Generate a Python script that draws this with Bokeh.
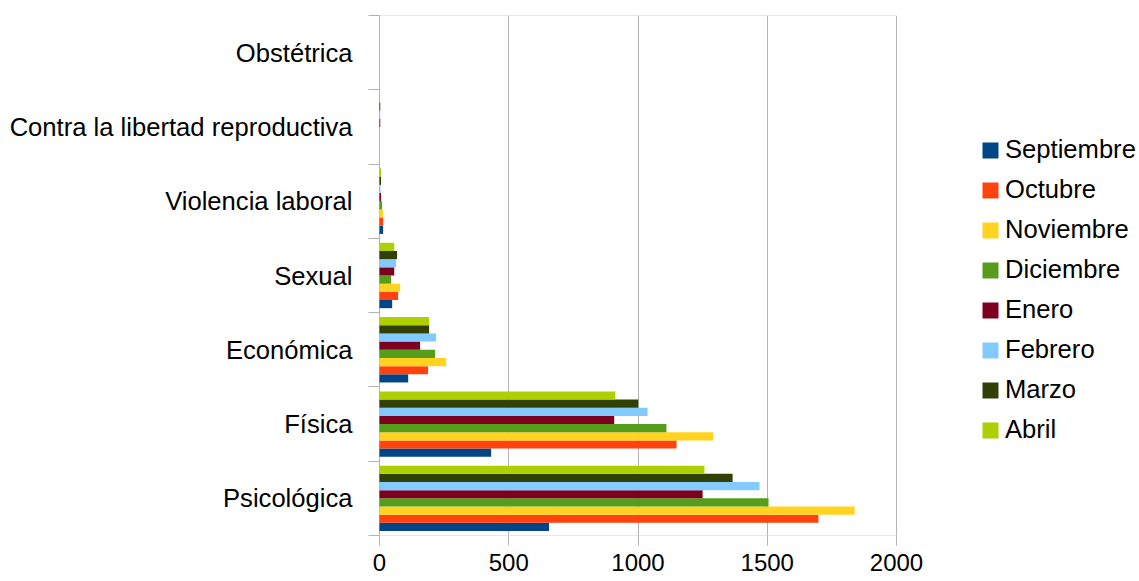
from bokeh.plotting import figure
from bokeh.models import ColumnDataSource, FixedTicker, Legend, LegendItem, Range1d
from bokeh.transform import dodge
from bokeh.embed import file_html
from bokeh.resources import INLINE

categories = ["Psicológica", "Física", "Económica", "Sexual", "Violencia laboral",
              "Contra la libertad reproductiva", "Obstétrica"]
months = ["Septiembre", "Octubre", "Noviembre", "Diciembre", "Enero", "Febrero", "Marzo", "Abril"]
colors = ["#004586", "#ff420e", "#ffd320", "#579d1c", "#7e0021", "#83caff", "#314004", "#aecf00"]

septiembre = [656, 432, 111, 49, 14, 0, 0]
octubre = [1698, 1149, 188, 72, 14, 0, 0]
noviembre = [1838, 1291, 258, 80, 14, 0, 0]
diciembre = [1505, 1110, 215, 45, 10, 0, 0]
enero = [1250, 908, 157, 57, 6, 3, 0]
febrero = [1470, 1037, 219, 64, 4, 3, 0]
marzo = [1366, 1001, 192, 68, 6, 3, 0]
abril = [1257, 912, 192, 57, 6, 0, 0]
x_ticks = [0, 500, 1000, 1500, 2000]

series = [septiembre, octubre, noviembre, diciembre, enero, febrero, marzo, abril]
pos = [i + 0.5 for i in range(len(categories))]
data = {"pos": pos}
for m, s in zip(months, series):
    data[m] = s
source = ColumnDataSource(data)

FONT = "Liberation Sans"

# layout (pixels)
W, H = 1139, 581
LEFT, TOP, BOTTOM = 379, 15, 46
AXIS_W = 517  # width of the 0..2000 value axis; the frame continues to the right for the legend
x_end = x_ticks[-1] * (W - LEFT) / AXIS_W

p = figure(width=W, height=H, x_range=Range1d(0, x_end), y_range=Range1d(0, len(categories)),
           output_backend="svg", toolbar_location=None,
           min_border_left=LEFT, min_border_right=0, min_border_top=TOP, min_border_bottom=BOTTOM)
p.outline_line_color = None
p.background_fill_color = "white"

# frame lines (top and bottom) spanning the value axis only
p.segment(x0=x_ticks[0], x1=x_ticks[-1], y0=[0, len(categories)], y1=[0, len(categories)],
          line_color="#d0d0d0", line_width=1)

bar_h = 0.11
renderers = []
for j, (m, c) in enumerate(zip(months, colors)):
    off = (j - 3.5) * bar_h
    r = p.hbar(y=dodge("pos", off, range=p.y_range), right=m, left=0, height=bar_h,
               source=source, fill_color=c, line_color=None, level="overlay")
    renderers.append(r)

# x axis
p.xaxis.ticker = FixedTicker(ticks=x_ticks)
p.xaxis.major_tick_out = 10
p.xaxis.major_tick_in = 0
p.xaxis.minor_tick_line_color = None
p.xaxis.major_tick_line_color = "#b3b3b3"
p.xaxis.axis_line_color = None
p.xaxis.major_label_text_font = FONT
p.xaxis.major_label_text_font_size = "24px"
p.xaxis.major_label_text_color = "black"
p.xaxis.major_label_standoff = 8

# y axis: labels at category centres, ticks at boundaries
p.yaxis.ticker = FixedTicker(ticks=pos, minor_ticks=list(range(len(categories) + 1)))
p.yaxis.major_label_overrides = {pv: c for pv, c in zip(pos, categories)}
p.yaxis.major_tick_out = 0
p.yaxis.major_tick_in = 0
p.yaxis.major_tick_line_color = None
p.yaxis.minor_tick_out = 11
p.yaxis.minor_tick_in = 0
p.yaxis.minor_tick_line_color = "#b3b3b3"
p.yaxis.axis_line_color = "#b3b3b3"
p.yaxis.major_label_text_font = FONT
p.yaxis.major_label_text_font_size = "25.6px"
p.yaxis.major_label_text_color = "black"
p.yaxis.major_label_standoff = 16

p.xgrid.ticker = FixedTicker(ticks=x_ticks)
p.xgrid.grid_line_color = "#b3b3b3"
p.ygrid.grid_line_color = None

legend = Legend(items=[LegendItem(label=m, renderers=[r]) for m, r in zip(months, renderers)],
                location=(601, 91))
legend.border_line_color = None
legend.background_fill_alpha = 0
legend.label_text_font = FONT
legend.label_text_font_size = "25.6px"
legend.label_text_color = "black"
legend.glyph_width = 20
legend.glyph_height = 20
legend.spacing = 11
legend.padding = 0
legend.margin = 0
legend.label_standoff = 5
p.add_layout(legend, "center")

open("out.html", "w").write(file_html(p, INLINE))
